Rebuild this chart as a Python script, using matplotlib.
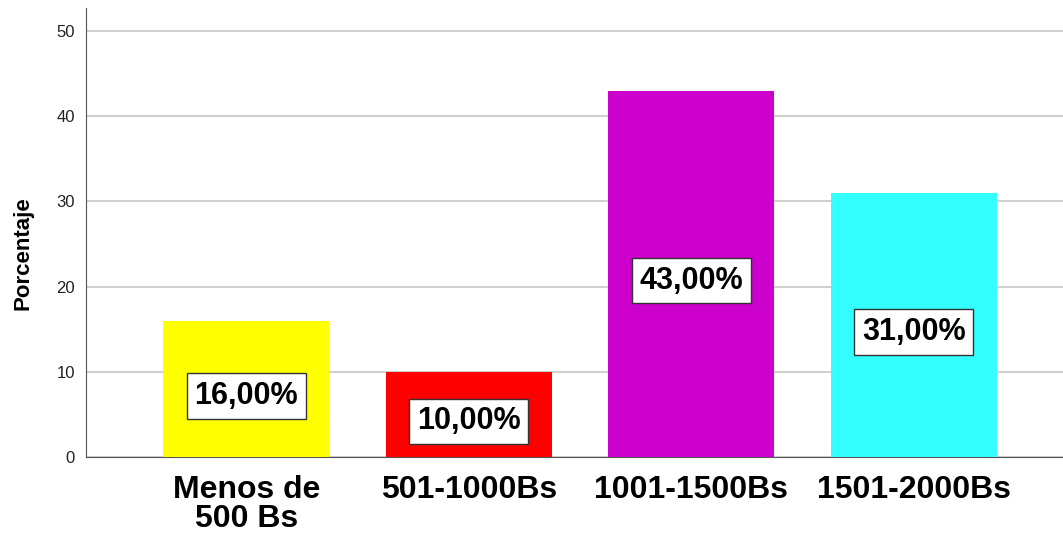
import matplotlib.pyplot as plt
import numpy as np

plt.rcParams['font.family'] = ['Liberation Sans', 'DejaVu Sans']

# Data
categories = ['Menos de\n500 Bs', '501-1000Bs', '1001-1500Bs', '1501-2000Bs']
percentages = [16.0, 10.0, 43.0, 31.0]
colors = ['#FFFF00', '#FF0000', '#CC00CC', '#33FFFF']

x = np.arange(len(categories))

fig = plt.figure(figsize=(10.63, 5.34), dpi=100)
ax = fig.add_axes([0.081, 0.144, 0.919, 0.841])

bars = ax.bar(x, percentages, width=0.745, color=colors, zorder=3)

for bar, val in zip(bars, percentages):
    ax.annotate(f'{val:.2f}%'.replace('.', ','),
                xy=(bar.get_x() + bar.get_width() / 2, val / 2),
                xytext=(0, -5), textcoords='offset points',
                ha='center', va='center', fontsize=22, fontweight='bold', zorder=4,
                bbox=dict(boxstyle='square,pad=0.25', facecolor='white',
                          edgecolor='#333333', linewidth=1))

ax.set_xlim(-0.72, 3.67)
ax.set_ylim(0, 52.7)
ax.set_yticks([0, 10, 20, 30, 40, 50])
ax.set_xticks(x)
ax.set_xticklabels(categories, fontsize=23, fontweight='bold', linespacing=0.95)
ax.tick_params(axis='both', length=0)
ax.tick_params(axis='y', labelsize=12, pad=8, colors='#222222')
ax.tick_params(axis='x', pad=13)
ax.set_ylabel('Porcentaje', fontsize=16, fontweight='bold')
ax.yaxis.set_label_coords(-0.054, 0.455)

ax.grid(axis='y', color='#d0d0d0', linewidth=1.5, zorder=0)
for side in ['top', 'right']:
    ax.spines[side].set_visible(False)
ax.spines['left'].set_color('#555555')
ax.spines['bottom'].set_color('#555555')

fig.savefig('out.png', dpi=100)
